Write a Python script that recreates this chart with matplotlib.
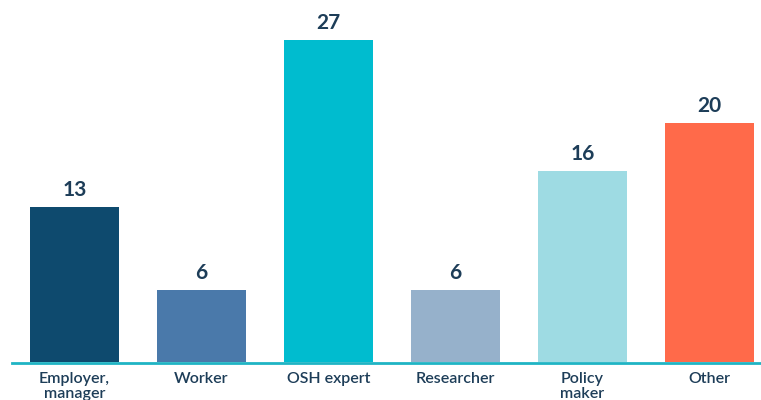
import matplotlib
matplotlib.use("Agg")
import matplotlib.pyplot as plt

# Data
categories = ["Employer,\nmanager", "Worker", "OSH expert", "Researcher", "Policy\nmaker", "Other"]
values = [13, 6, 27, 6, 16, 20]
colors = ["#0e4a6e", "#4a79aa", "#00bccf", "#96b1cb", "#9edbe3", "#ff6a4a"]

text_color = "#1d3d58"
plt.rcParams['font.family'] = ['Lato', 'DejaVu Sans']

fig = plt.figure(figsize=(7.61, 4.0), dpi=100)
ax = fig.add_axes([12 / 761, 38 / 400, 749 / 761, 357.8 / 400])

x = list(range(len(categories)))
bars = ax.bar(x, values, width=0.70, color=colors, zorder=2)

for xi, v in zip(x, values):
    ax.text(xi, v + 0.6, str(v), ha="center", va="bottom",
            fontsize=15, fontweight="bold", color=text_color)

ax.set_xlim(-0.492, 5.406)
ax.set_ylim(0, 30)

# baseline
ax.axhline(-0.1, color="#1fb4c4", linewidth=2, zorder=3, clip_on=False)

ax.set_xticks(x)
ax.set_xticklabels(categories, fontsize=11.5, fontweight="semibold",
                   color=text_color, linespacing=1.1)
ax.tick_params(axis="x", length=0, pad=7)
ax.set_yticks([])
for s in ax.spines.values():
    s.set_visible(False)

fig.savefig("out.png", dpi=100)
